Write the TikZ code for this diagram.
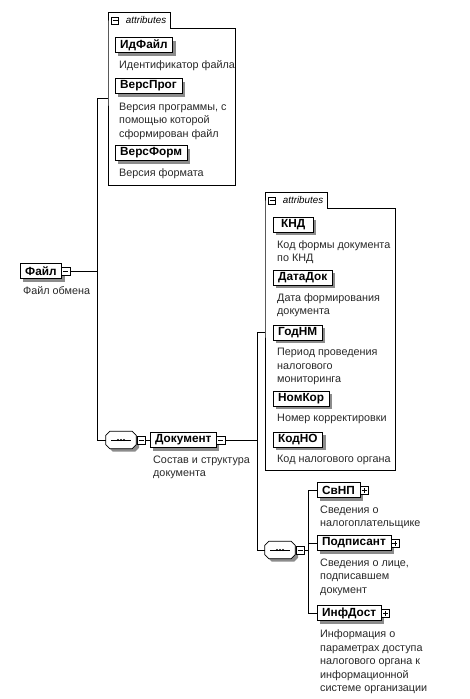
\documentclass[tikz,border=0pt]{standalone}
\usepackage{fontspec}
\setmainfont{Liberation Sans}
\usetikzlibrary{positioning,calc}
\definecolor{shadowgray}{RGB}{140,140,140}
\definecolor{textgray}{RGB}{40,40,40}
\newcommand{\seqshape}[1]{%
  \draw[shd,fill=white,line width=.7pt] ([xshift=4pt]#1.north west) -- ([xshift=-4pt]#1.north east)
    -- ([yshift=-4pt]#1.north east) -- ([yshift=4pt]#1.south east) -- ([xshift=-4pt]#1.south east)
    -- ([xshift=4pt]#1.south west) -- ([yshift=4pt]#1.south west) -- ([yshift=-4pt]#1.north west) -- cycle;
  \draw[line width=.8pt] ([xshift=-10pt]#1.center) -- ([xshift=10pt]#1.center);
  \foreach \d in {-3,0,3} \fill ([xshift=\d pt]#1.center) circle (1.1pt);}

\begin{document}
\begin{tikzpicture}[x=1pt,y=-1pt,
    shd/.style={preaction={fill=shadowgray,draw=none,transform canvas={shift={(3pt,-3pt)}}}},
    el/.style={rectangle,draw,fill=white,shd,font=\fontsize{11.8}{12}\selectfont\bfseries,
      inner xsep=5pt,inner ysep=0pt,minimum height=15pt,minimum width=40pt,anchor=west},
    ds/.style={font=\fontsize{10.8}{13.5}\selectfont,text=textgray,align=left,inner sep=0pt,
      anchor=north west},
    sq/.style={rectangle,draw,fill=white,minimum size=8.5pt,inner sep=0pt},
    mn/.style={sq,path picture={\draw ([xshift=-2.5pt]path picture bounding box.center)
      -- ([xshift=2.5pt]path picture bounding box.center);}},
    pl/.style={sq,path picture={\draw ([xshift=-2.5pt]path picture bounding box.center)
      -- ([xshift=2.5pt]path picture bounding box.center)
      ([yshift=-2.5pt]path picture bounding box.center)
      -- ([yshift=2.5pt]path picture bounding box.center);}},
    seq/.style={rectangle,minimum width=30pt,minimum height=17pt,inner sep=0pt},
    abody/.style={rectangle,inner sep=0pt,anchor=north west},
    atab/.style={rectangle,inner xsep=4pt,inner ysep=0pt,minimum height=15pt,
      text width=54pt,align=right,font=\fontsize{9.8}{10}\selectfont\itshape,anchor=south west},
    ln/.style={draw,line width=.7pt}]
  \useasboundingbox (0,0) rectangle (469,699);

  % root
  \node[el] (file) at (20,271) {Файл};
  \node[mn] (filem) at ([xshift=4pt]file.east) {};
  \node[ds,below=8pt of file.south west,anchor=north west,xshift=3pt] (filed) {Файл обмена};

  % attributes of Файл
  \node[abody,minimum width=127pt,minimum height=157pt] (fattr) at (108,28) {};
  \node[atab] (ftab) at (fattr.north west) {attributes};
  \draw[ln] (ftab.south west) |- (ftab.north east) |- (fattr.north east) |- (fattr.south west) -- cycle;
  \node[mn,minimum size=7pt] at ([xshift=7pt]ftab.west) {};
  \node[el] (idfile) at (115,45) {ИдФайл};
  \node[ds,below=8pt of idfile.south west,anchor=north west,xshift=4pt] {Идентификатор файла};
  \node[el] (versprog) at (115,86) {ВерсПрог};
  \node[ds,below=9pt of versprog.south west,anchor=north west,xshift=4pt] {Версия программы, с\\помощью которой\\сформирован файл};
  \node[el] (versform) at (115,153) {ВерсФорм};
  \node[ds,below=8pt of versform.south west,anchor=north west,xshift=4pt] {Версия формата};

  % Документ
  \node[seq] (seqa) at (121,440) {};
  \seqshape{seqa}
  \node[mn] (seqam) at ([xshift=5pt]seqa.east) {};
  \node[el] (doc) at (150,440) {Документ};
  \node[mn] (docm) at ([xshift=4pt]doc.east) {};
  \node[ds,below=8pt of doc.south west,anchor=north west,xshift=3pt] (docd) {Состав и структура\\документа};

  % attributes of Документ
  \node[abody,minimum width=130pt,minimum height=262pt] (dattr) at (265,208) {};
  \node[atab] (dtab) at (dattr.north west) {attributes};
  \draw[ln] (dtab.south west) |- (dtab.north east) |- (dattr.north east) |- (dattr.south west) -- cycle;
  \node[mn,minimum size=7pt] at ([xshift=7pt]dtab.west) {};
  \node[el] (knd) at (273,224.5) {КНД};
  \node[ds,below=8pt of knd.south west,anchor=north west,xshift=4pt] {Код формы документа\\по КНД};
  \node[el] (datadok) at (273,277.5) {ДатаДок};
  \node[ds,below=8pt of datadok.south west,anchor=north west,xshift=4pt] {Дата формирования\\документа};
  \node[el] (godnm) at (273,332.5) {ГодНМ};
  \node[ds,below=8pt of godnm.south west,anchor=north west,xshift=4pt] {Период проведения\\налогового\\мониторинга};
  \node[el] (nomkor) at (273,398.5) {НомКор};
  \node[ds,below=8pt of nomkor.south west,anchor=north west,xshift=4pt] {Номер корректировки};
  \node[el] (kodno) at (273,439.5) {КодНО};
  \node[ds,below=8pt of kodno.south west,anchor=north west,xshift=4pt] {Код налогового органа};

  % children of Документ
  \node[seq] (seqb) at (280,550) {};
  \seqshape{seqb}
  \node[mn] (seqbm) at ([xshift=5pt]seqb.east) {};
  \node[el] (svnp) at (317,490) {СвНП};
  \node[pl] (svnpp) at ([xshift=4pt]svnp.east) {};
  \node[ds,below=8pt of svnp.south west,anchor=north west,xshift=3pt] {Сведения о\\налогоплательщике};
  \node[el] (podp) at (317,543) {Подписант};
  \node[pl] (podpp) at ([xshift=4pt]podp.east) {};
  \node[ds,below=8pt of podp.south west,anchor=north west,xshift=3pt] {Сведения о лице,\\подписавшем\\документ};
  \node[el] (infdost) at (317,613) {ИнфДост};
  \node[pl] (infdostp) at ([xshift=4pt]infdost.east) {};
  \node[ds,below=9pt of infdost.south west,anchor=north west,xshift=3pt] {Информация о\\параметрах доступа\\налогового органа к\\информационной\\системе организации};

  % connectors
  \coordinate (fbus) at (97,98);
  \coordinate (dbus) at (257,332);
  \coordinate (cbus) at (308,550);
  \draw[ln] (filem.east) -- (filem.east -| fbus);
  \draw[ln] (fattr.west |- fbus) -- (fbus) |- (seqa.west);
  \draw[ln] (seqam.east) -- (doc.west);
  \draw[ln] (docm.east) -- (docm.east -| dbus);
  \draw[ln] (dattr.west |- dbus) -- (dbus) |- (seqb.west);
  \draw[ln] (seqbm.east) -- (cbus);
  \draw[ln] (svnp.west) -| (cbus |- infdost.west) -- (infdost.west);
  \draw[ln] (podp.west) -- (podp.west -| cbus);
\end{tikzpicture}
\end{document}
